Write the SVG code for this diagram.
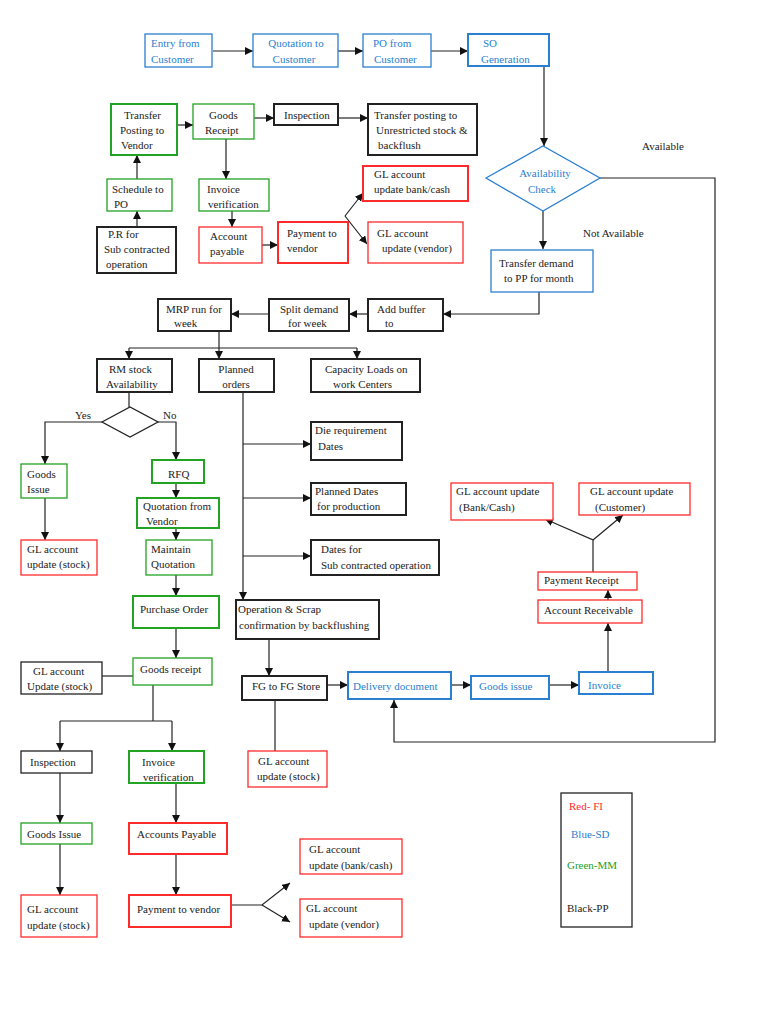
<svg xmlns="http://www.w3.org/2000/svg" width="768" height="1024" viewBox="0 0 768 1024">
<style>
text{font-family:"Liberation Serif","Times New Roman",serif;font-size:11px;fill:#222}
.m{text-anchor:middle}
.tb{fill:#2a7fd0}
.tr{fill:#ff2a2a}
.tg{fill:#22a022}
rect,polygon{fill:#fff;stroke-width:1.3}
.bl{stroke:#2a7fd0}
.rd{stroke:#ff2a2a}
.gr{stroke:#23a323}
.bk{stroke:#222}
.th{stroke-width:2}
#connectors path{fill:none;stroke:#222;stroke-width:1.2}
</style>
<defs>
<marker id="a" viewBox="0 0 10 10" refX="10" refY="5" markerWidth="8" markerHeight="8" orient="auto" markerUnits="userSpaceOnUse"><path d="M0,0 L10,5 L0,10 z" fill="#111"/></marker>
</defs>
<rect x="0" y="0" width="768" height="1024" fill="#fff" stroke="none"/>

<g id="connectors">
<path d="M213,51 H253" marker-end="url(#a)"/>
<path d="M338,51 H363" marker-end="url(#a)"/>
<path d="M431,51 H468" marker-end="url(#a)"/>
<path d="M177,125 H193" marker-end="url(#a)"/>
<path d="M254,118 H274" marker-end="url(#a)"/>
<path d="M338,118 H368" marker-end="url(#a)"/>
<path d="M137,179 V155" marker-end="url(#a)"/>
<path d="M137,227 V211" marker-end="url(#a)"/>
<path d="M226,139 V179" marker-end="url(#a)"/>
<path d="M232,211 V227" marker-end="url(#a)"/>
<path d="M262,245 H278" marker-end="url(#a)"/>
<path d="M345,216 L363,193" marker-end="url(#a)"/>
<path d="M345,216 L367,244" marker-end="url(#a)"/>
<path d="M544,66 V146" marker-end="url(#a)"/>
<path d="M600,178 H715 V742 H394 V700" marker-end="url(#a)"/>
<path d="M543,211 V249" marker-end="url(#a)"/>
<path d="M539,292 V314 H443" marker-end="url(#a)"/>
<path d="M368,314 H349" marker-end="url(#a)"/>
<path d="M269,314 H231" marker-end="url(#a)"/>
<path d="M219,331 V359" marker-end="url(#a)"/>
<path d="M129,348 H357"/>
<path d="M129,348 V359" marker-end="url(#a)"/>
<path d="M357,348 V359" marker-end="url(#a)"/>
<path d="M129,392 V407"/>
<path d="M102,422 H45 V464" marker-end="url(#a)"/>
<path d="M158,422 H176 V460" marker-end="url(#a)"/>
<path d="M45,498 V540" marker-end="url(#a)"/>
<path d="M176,483 V498" marker-end="url(#a)"/>
<path d="M176,528 V540" marker-end="url(#a)"/>
<path d="M176,575 V596" marker-end="url(#a)"/>
<path d="M243,392 V600" marker-end="url(#a)"/>
<path d="M243,444 H311" marker-end="url(#a)"/>
<path d="M243,498 H311" marker-end="url(#a)"/>
<path d="M243,556 H311" marker-end="url(#a)"/>
<path d="M176,628 V658" marker-end="url(#a)"/>
<path d="M102,676 H133"/>
<path d="M153,685 V721"/>
<path d="M60,721 H172"/>
<path d="M60,721 V751" marker-end="url(#a)"/>
<path d="M172,721 V751" marker-end="url(#a)"/>
<path d="M60,773 V823" marker-end="url(#a)"/>
<path d="M60,844 V895" marker-end="url(#a)"/>
<path d="M176,783 V823" marker-end="url(#a)"/>
<path d="M176,854 V895" marker-end="url(#a)"/>
<path d="M231,905 H262 L290,883" marker-end="url(#a)"/>
<path d="M262,905 L290,922" marker-end="url(#a)"/>
<path d="M269,639 V676" marker-end="url(#a)"/>
<path d="M327,685 H348" marker-end="url(#a)"/>
<path d="M451,685 H471" marker-end="url(#a)"/>
<path d="M549,685 H579" marker-end="url(#a)"/>
<path d="M275,700 V751"/>
<path d="M608,672 V623" marker-end="url(#a)"/>
<path d="M608,600 V590" marker-end="url(#a)"/>
<path d="M593,572 V540 L545,519" marker-end="url(#a)"/>
<path d="M593,540 L623,515" marker-end="url(#a)"/>
</g>

<g id="entry"><rect class="bl" x="145" y="34" width="67" height="33"/><text class="tb" x="151" y="47">Entry from</text><text class="tb" x="151" y="63">Customer</text></g>
<g id="quotation"><rect class="bl" x="253" y="34" width="85" height="33"/><text class="tb m" x="296" y="47">Quotation to</text><text class="tb m" x="294" y="63">Customer</text></g>
<g id="pofrom"><rect class="bl" x="363" y="34" width="68" height="33"/><text class="tb" x="373" y="47">PO from</text><text class="tb" x="374" y="63">Customer</text></g>
<g id="so"><rect class="bl th" x="468" y="34" width="81" height="32"/><text class="tb" x="483" y="47">SO</text><text class="tb" x="481" y="63">Generation</text></g>

<g id="transferposting"><rect class="gr th" x="111" y="104" width="66" height="51"/><text x="124" y="119">Transfer</text><text x="120" y="134">Posting to</text><text x="121" y="149">Vendor</text></g>
<g id="goodsreceipt1"><rect class="gr" x="193" y="104" width="61" height="35"/><text x="209" y="119">Goods</text><text x="205" y="134">Receipt</text></g>
<g id="inspection1"><rect class="bk th" x="274" y="104" width="64" height="21"/><text x="284" y="119">Inspection</text></g>
<g id="transferunres"><rect class="bk th" x="368" y="104" width="109" height="51"/><text x="374" y="119">Transfer posting to</text><text x="376" y="134">Unrestricted stock &amp;</text><text x="378" y="149">backflush</text></g>
<g id="schedule"><rect class="gr" x="107" y="179" width="65" height="32"/><text x="112" y="193">Schedule to</text><text x="114" y="208">PO</text></g>
<g id="pr"><rect class="bk th" x="97" y="227" width="79" height="46"/><text x="108" y="238">P.R for</text><text x="104" y="253">Sub contracted</text><text x="106" y="268">operation</text></g>
<g id="invoicever1"><rect class="gr" x="199" y="179" width="70" height="32"/><text x="207" y="193">Invoice</text><text x="208" y="208">verification</text></g>
<g id="accpayable"><rect class="rd" x="199" y="227" width="63" height="36"/><text x="210" y="240">Account</text><text x="210" y="255">payable</text></g>
<g id="payment1"><rect class="rd th" x="278" y="222" width="70" height="41"/><text x="287" y="237">Payment to</text><text x="287" y="252">vendor</text></g>
<g id="glbank1"><rect class="rd th" x="363" y="166" width="105" height="35"/><text x="374" y="178">GL account</text><text x="374" y="193">update bank/cash</text></g>
<g id="glvendor1"><rect class="rd" x="368" y="222" width="95" height="41"/><text x="377" y="237">GL account</text><text x="382" y="252">update (vendor)</text></g>

<g id="availability"><polygon class="bl" points="486,178 543,146 600,178 543,211"/><text class="tb m" x="545" y="177">Availability</text><text class="tb m" x="542" y="193">Check</text></g>
<text x="642" y="150">Available</text>
<text x="583" y="237">Not Available</text>
<g id="transferdemand"><rect class="bl" x="491" y="250" width="102" height="42"/><text x="499" y="267">Transfer  demand</text><text x="504" y="282">to PP for month</text></g>

<g id="mrp"><rect class="bk th" x="158" y="299" width="73" height="32"/><text x="166" y="313">MRP run for</text><text x="174" y="327">week</text></g>
<g id="split"><rect class="bk th" x="269" y="299" width="80" height="32"/><text x="280" y="313">Split demand</text><text x="288" y="327">for week</text></g>
<g id="buffer"><rect class="bk th" x="368" y="299" width="75" height="32"/><text x="377" y="313">Add buffer</text><text x="385" y="327">to</text></g>

<g id="rmstock"><rect class="bk th" x="97" y="359" width="75" height="33"/><text x="109" y="373">RM stock</text><text x="106" y="388">Availability</text></g>
<g id="planned"><rect class="bk th" x="199" y="359" width="75" height="33"/><text class="m" x="236" y="373">Planned</text><text class="m" x="236" y="388">orders</text></g>
<g id="capacity"><rect class="bk th" x="311" y="359" width="109" height="33"/><text x="325" y="373">Capacity Loads on</text><text x="333" y="388">work Centers</text></g>
<g id="decision"><polygon class="bk" points="102,422 130,407 158,422 130,437"/></g>
<text x="75" y="419">Yes</text>
<text x="163" y="419">No</text>
<g id="goodsissue1"><rect class="gr" x="21" y="464" width="46" height="34"/><text x="27" y="478">Goods</text><text x="27" y="493">Issue</text></g>
<g id="glstock1"><rect class="rd" x="21" y="540" width="76" height="35"/><text x="27" y="553">GL account</text><text x="27" y="568">update (stock)</text></g>
<g id="rfq"><rect class="gr th" x="152" y="460" width="52" height="23"/><text x="168" y="478">RFQ</text></g>
<g id="quotvendor"><rect class="gr th" x="137" y="498" width="82" height="30"/><text x="143" y="510">Quotation from</text><text x="146" y="525">Vendor</text></g>
<g id="maintain"><rect class="gr" x="146" y="540" width="66" height="35"/><text x="151" y="553">Maintain</text><text x="151" y="568">Quotation</text></g>
<g id="purchaseorder"><rect class="gr th" x="133" y="596" width="86" height="32"/><text x="140" y="613">Purchase Order</text></g>
<g id="die"><rect class="bk th" x="311" y="422" width="91" height="38"/><text x="315" y="434">Die requirement</text><text x="318" y="450">Dates</text></g>
<g id="planneddates"><rect class="bk th" x="311" y="483" width="95" height="32"/><text x="315" y="495">Planned Dates</text><text x="317" y="510">for production</text></g>
<g id="datesfor"><rect class="bk th" x="311" y="540" width="128" height="35"/><text x="321" y="553">Dates for</text><text x="321" y="569">Sub contracted operation</text></g>
<g id="operation"><rect class="bk th" x="236" y="600" width="143" height="39"/><text x="238" y="613">Operation &amp; Scrap</text><text x="239" y="629">confirmation by backflushing</text></g>

<g id="goodsreceipt2"><rect class="gr" x="133" y="658" width="79" height="27"/><text x="140" y="673">Goods receipt</text></g>
<g id="glupdatestock"><rect class="bk" x="21" y="662" width="81" height="32"/><text x="33" y="675">GL account</text><text x="27" y="690">Update (stock)</text></g>
<g id="inspection2"><rect class="bk" x="21" y="751" width="71" height="22"/><text x="30" y="766">Inspection</text></g>
<g id="invoicever2"><rect class="gr th" x="129" y="751" width="75" height="32"/><text x="142" y="766">Invoice</text><text x="143" y="781">verification</text></g>
<g id="goodsissue2"><rect class="gr" x="21" y="823" width="71" height="21"/><text x="27" y="838">Goods Issue</text></g>
<g id="glstock2"><rect class="rd" x="21" y="895" width="76" height="42"/><text x="27" y="913">GL account</text><text x="27" y="929">update (stock)</text></g>
<g id="accountspayable"><rect class="rd th" x="129" y="823" width="98" height="31"/><text x="137" y="838">Accounts Payable</text></g>
<g id="payment2"><rect class="rd th" x="129" y="895" width="102" height="32"/><text x="137" y="913">Payment to vendor</text></g>
<g id="glbank2"><rect class="rd" x="300" y="839" width="102" height="35"/><text x="309" y="853">GL account</text><text x="309" y="869">update (bank/cash)</text></g>
<g id="glvendor2"><rect class="rd" x="300" y="899" width="102" height="38"/><text x="306" y="912">GL account</text><text x="309" y="928">update (vendor)</text></g>

<g id="fgstore"><rect class="bk th" x="242" y="676" width="85" height="24"/><text x="252" y="690">FG to FG Store</text></g>
<g id="delivery"><rect class="bl th" x="348" y="672" width="103" height="27"/><text class="tb" x="353" y="690">Delivery document</text></g>
<g id="goodsissue3"><rect class="bl th" x="471" y="676" width="78" height="23"/><text class="tb" x="479" y="690">Goods issue</text></g>
<g id="invoice"><rect class="bl th" x="579" y="672" width="74" height="22"/><text class="tb" x="588" y="689">Invoice</text></g>
<g id="glstock3"><rect class="rd" x="248" y="751" width="79" height="36"/><text x="258" y="765">GL account</text><text x="257" y="780">update (stock)</text></g>
<g id="receivable"><rect class="rd" x="538" y="600" width="104" height="23"/><text x="544" y="614">Account Receivable</text></g>
<g id="paymentreceipt"><rect class="rd" x="538" y="572" width="99" height="18"/><text x="544" y="584">Payment Receipt</text></g>
<g id="glbankcash3"><rect class="rd" x="451" y="483" width="102" height="37"/><text x="456" y="495">GL account update</text><text x="459" y="511">(Bank/Cash)</text></g>
<g id="glcustomer"><rect class="rd" x="579" y="483" width="111" height="32"/><text x="590" y="495">GL account update</text><text x="595" y="511">(Customer)</text></g>

<g id="legend"><rect class="bk" x="561" y="793" width="71" height="134"/><text class="tr" x="569" y="810">Red- FI</text><text class="tb" x="571" y="838">Blue-SD</text><text class="tg" x="567" y="869">Green-MM</text><text x="567" y="912">Black-PP</text></g>
</svg>
